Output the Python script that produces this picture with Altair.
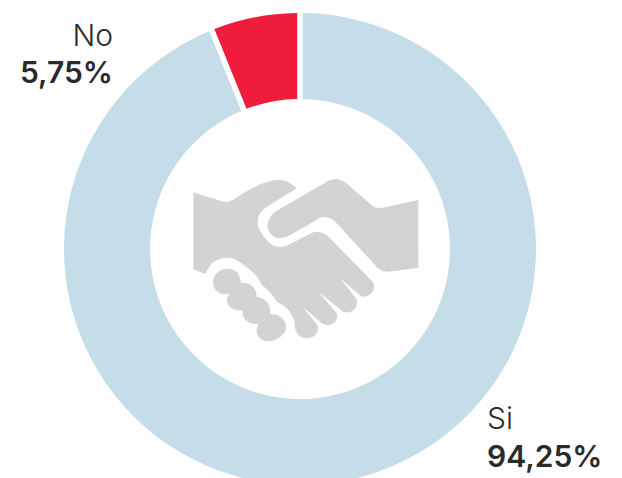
import math
import altair as alt
import pandas as pd

categories = ["Si", "No"]
values = [93.9, 6.1]
value_labels = ["94,25%", "5,75%"]
colors = ["#c5dce9", "#ef1c3c"]
ICON_GREY = "#d1d3d4"
TEXT = "#2b2a2b"
FONT = "Inter"

# chart-space positions (page minus 8px margin)
CX, CY = 292, 241

hand_lower = ("M40,67 L130,95 C150,100 165,85 190,70 C230,45 270,28 300,30 C325,32 340,45 350,55 "
              "L265,108 C240,122 233,140 233,155 C233,175 245,195 270,220 C285,232 305,238 335,220 "
              "L400,187 C420,180 440,195 450,205 L578,335 C590,355 575,382 545,380 L480,325 "
              "L528,385 C540,410 515,435 490,425 L415,365 L470,430 C480,455 450,475 425,460 "
              "L368,410 L412,465 C420,490 400,510 370,503 C350,495 345,480 345,470 "
              "C345,440 325,410 290,395 C280,375 260,355 245,345 C235,320 215,300 190,285 "
              "C165,258 125,255 95,280 L75,312 L40,298 Z")
hand_fist = ("M100,330 C105,295 150,285 175,310 C180,325 183,335 183,340 C210,335 230,355 230,380 "
             "C255,382 275,405 270,432 C300,430 325,455 317,480 C305,510 260,525 240,505 "
             "C225,490 230,475 235,462 C205,465 185,445 187,420 C160,425 135,405 142,385 "
             "C143,378 147,372 150,370 C120,380 95,360 100,330 Z")
hand_right = ("M290,122 L440,35 C465,20 490,30 505,45 L575,105 C590,117 600,115 615,112 L715,90 "
              "L715,293 L625,305 C605,305 595,297 585,285 L470,160 C450,140 430,135 410,150 "
              "L330,195 C300,212 280,205 268,185 C255,165 265,140 290,122 Z")
icon_path = hand_lower + " " + hand_fist + " " + hand_right

df = pd.DataFrame({"cat": categories, "value": values, "order": [0, 1]})

arcs = alt.Chart(df).mark_arc(outerRadius=236, innerRadius=150, padAngle=0.02).encode(
    x=alt.value(CX),
    y=alt.value(CY),
    theta=alt.Theta("value:Q", stack=True,
                    scale=alt.Scale(domain=[0, 100], range=[0, 2 * math.pi])),
    color=alt.Color("cat:N", scale=alt.Scale(domain=categories, range=colors), legend=None),
    order=alt.Order("order:Q"),
)

icon = alt.Chart(pd.DataFrame({"k": ["icon"]})).mark_point(
    shape=icon_path, filled=True, fill=ICON_GREY, stroke=None, opacity=1, size=4 / 9
).encode(x=alt.value(172), y=alt.value(162))


def label(text, x, y, align, weight):
    return alt.Chart(pd.DataFrame({"t": [text]})).mark_text(
        font=FONT, fontSize=30, fontWeight=weight, color=TEXT, align=align, baseline="alphabetic"
    ).encode(text="t:N", x=alt.value(x), y=alt.value(y))


texts = [
    label("No", 105, 38, "right", 300),
    label(value_labels[1], 105, 75, "right", 600),
    label("Si", 479, 421, "left", 300),
    label(value_labels[0], 479, 459, "left", 600),
]

chart = alt.layer(arcs, icon, *texts).properties(
    width=606, height=470, padding=0,
    autosize=alt.AutoSizeParams(type="none"),
    background="white",
).configure_view(stroke=None)

chart.save("out.html", embed_options={"renderer": "svg", "actions": False})
